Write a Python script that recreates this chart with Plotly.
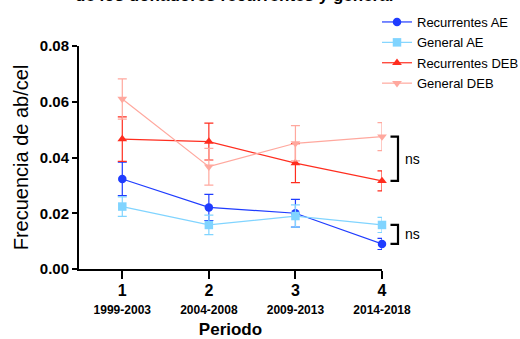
import plotly.graph_objects as go

periods = [1, 2, 3, 4]
period_labels = ["1999-2003", "2004-2008", "2009-2013", "2014-2018"]

rec_ae = [0.0323, 0.0221, 0.0200, 0.0090]
rec_ae_err = [0.0060, 0.0047, 0.0050, 0.0020]
gen_ae = [0.0224, 0.0158, 0.0190, 0.0158]
gen_ae_err = [0.0035, 0.0035, 0.0040, 0.0027]
rec_deb = [0.0466, 0.0457, 0.0380, 0.0316]
rec_deb_err = [0.0080, 0.0066, 0.0070, 0.0036]
gen_deb = [0.0610, 0.0367, 0.0451, 0.0475]
gen_deb_err = [0.0072, 0.0066, 0.0063, 0.0050]

series = [
    ("Recurrentes AE", rec_ae, rec_ae_err, "#1f3cff", "circle"),
    ("General AE", gen_ae, gen_ae_err, "#80d4ff", "square"),
    ("Recurrentes DEB", rec_deb, rec_deb_err, "#ff2d1f", "triangle-up"),
    ("General DEB", gen_deb, gen_deb_err, "#ffa89e", "triangle-down"),
]

FONT = "Liberation Sans, Arial, Helvetica, sans-serif"
fig = go.Figure()
for i, (name, vals, errs, col, sym) in enumerate(series):
    fig.add_trace(go.Scatter(
        x=periods, y=vals, name=name, mode="lines+markers", legendgroup=f"g{i}",
        line=dict(color=col, width=1.2),
        marker=dict(color=col, symbol=sym, size=8.5),
        error_y=dict(type="data", array=errs, color=col, thickness=1.2, width=4.5),
        cliponaxis=False,
    ))

ticktext = [f"<span style='font-size:16px'><b>{p}</b></span><br><span style='font-size:12px'><b>{l}</b></span>"
            for p, l in zip(periods, period_labels)]

YMAX = 0.08
PL, PR, PT, PB = 79, 382, 46, 269

def yp(v):
    return v / YMAX

def xp(px):
    return (px - PL) / (PR - PL)

def ypx(py):
    return (PB - py) / (PB - PT)

# significance brackets (paper coordinates)
brackets = [(gen_deb[3], rec_deb[3]), (gen_ae[3], rec_ae[3])]
for top, bot in brackets:
    x0, x1 = xp(390.5), xp(398)
    fig.add_shape(type="path", xref="paper", yref="paper",
                  path=f"M {x0},{yp(top)} L {x1},{yp(top)} L {x1},{yp(bot)} L {x0},{yp(bot)}",
                  line=dict(color="black", width=2.2))
    fig.add_annotation(x=xp(403), y=yp((top + bot) / 2), xref="paper", yref="paper",
                       text="ns", showarrow=False, xanchor="left", yanchor="middle",
                       font=dict(size=14, color="black", family=FONT))

fig.add_annotation(x=xp(234), y=ypx(-5), xref="paper", yref="paper",
                   text="<b>de los donadores recurrentes y general</b>", showarrow=False,
                   xanchor="center", yanchor="middle",
                   font=dict(size=17, color="black", family=FONT))

fig.update_layout(
    template="none",
    width=520, height=339,
    margin=dict(l=PL, r=520 - PR, t=PT, b=339 - PB, autoexpand=False),
    plot_bgcolor="white", paper_bgcolor="white",
    font=dict(family=FONT, color="black"),
    showlegend=True,
    legend=dict(x=xp(377), y=ypx(7), xanchor="left", yanchor="top",
                font=dict(size=13, family=FONT), tracegroupgap=0.5,
                bgcolor="rgba(0,0,0,0)", itemwidth=30),
    xaxis=dict(range=[0.5, 4], tickmode="array", tickvals=periods, ticktext=ticktext,
               showgrid=False, zeroline=False, showline=True, linecolor="black", linewidth=2,
               ticks="outside", ticklen=8, tickwidth=2, tickcolor="black", automargin=False,
               tickfont=dict(size=13.8, family=FONT),
               title=dict(text="<b>Periodo</b>", font=dict(size=17, family=FONT), standoff=19)),
    yaxis=dict(range=[0, YMAX], tickvals=[0, 0.02, 0.04, 0.06, 0.08],
               ticktext=["<b>0.00</b>", "<b>0.02</b>", "<b>0.04</b>", "<b>0.06</b>", "<b>0.08</b>"],
               showgrid=False, zeroline=False, showline=True, linecolor="black", linewidth=2,
               ticks="outside", ticklen=5, tickwidth=2, tickcolor="black", automargin=False,
               tickfont=dict(size=15, family=FONT),
               title=dict(text="Frecuencia de ab/cel", font=dict(size=20, family=FONT), standoff=6)),
)

fig.write_html("out.html", config={"displayModeBar": False},
               post_script="document.body.style.margin='0';document.body.style.overflow='hidden';")
